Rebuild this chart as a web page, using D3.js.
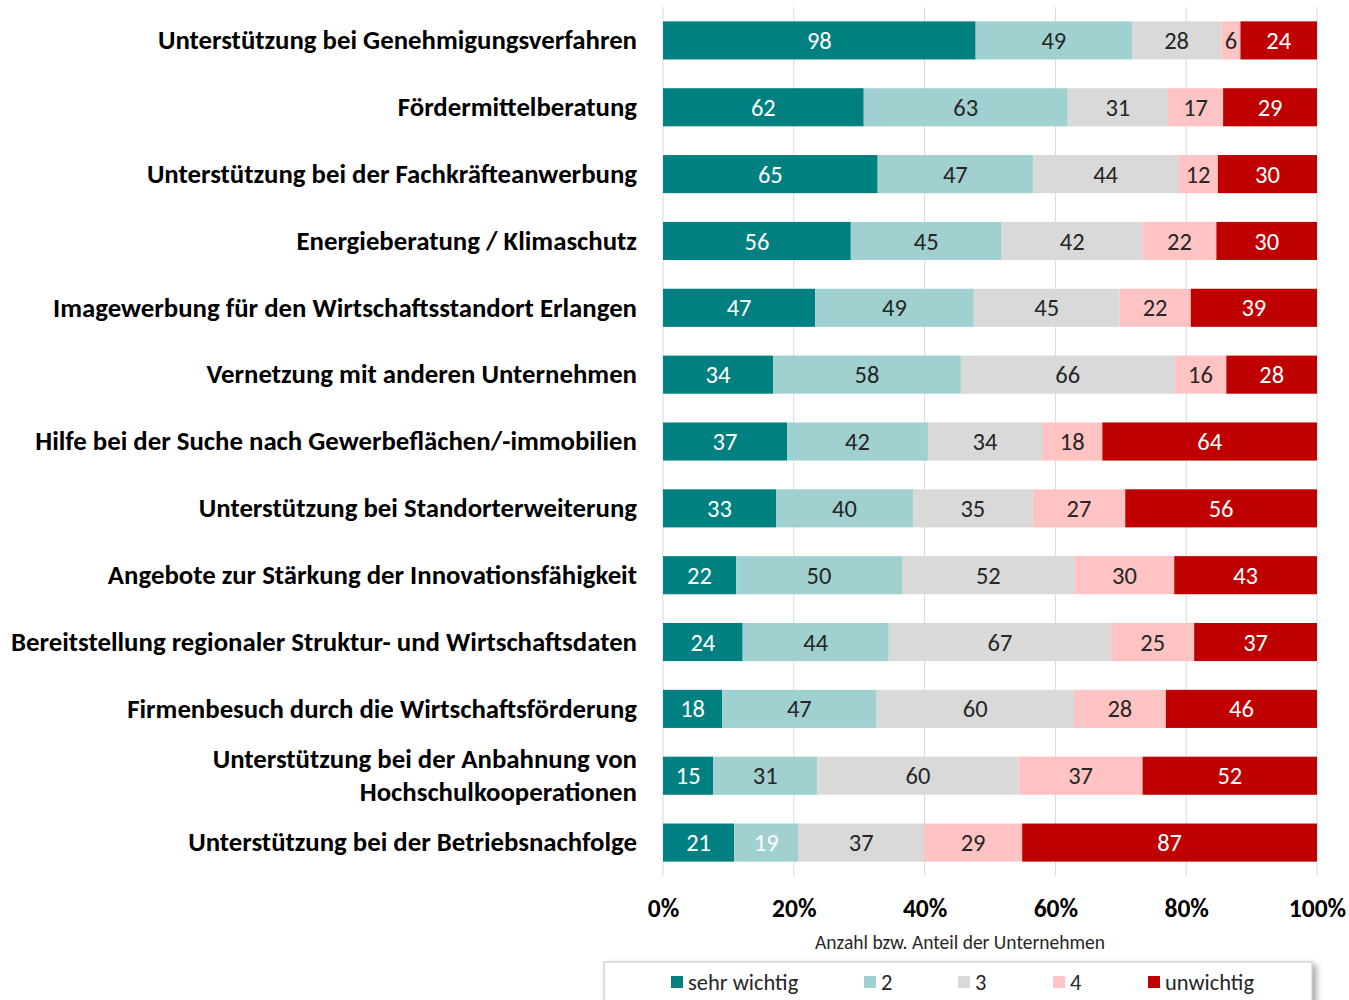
<!DOCTYPE html>
<html>
<head>
<meta charset="utf-8">
<script src="https://cdn.jsdelivr.net/npm/d3@7"></script>
<style>
  html, body { margin: 0; padding: 0; background: #fff; }
  svg { display: block; font-family: Carlito, Calibri, "Open Sans", sans-serif; }
</style>
</head>
<body>
<svg id="chart" width="1349" height="1000"></svg>
<script>
// Services, in display order (top to bottom); "\n" splits a label over two lines
const categories = [
  "Unterstützung bei Genehmigungsverfahren",
  "Fördermittelberatung",
  "Unterstützung bei der Fachkräfteanwerbung",
  "Energieberatung / Klimaschutz",
  "Imagewerbung für den Wirtschaftsstandort Erlangen",
  "Vernetzung mit anderen Unternehmen",
  "Hilfe bei der Suche nach Gewerbeflächen/-immobilien",
  "Unterstützung bei Standorterweiterung",
  "Angebote zur Stärkung der Innovationsfähigkeit",
  "Bereitstellung regionaler Struktur- und Wirtschaftsdaten",
  "Firmenbesuch durch die Wirtschaftsförderung",
  "Unterstützung bei der Anbahnung von\nHochschulkooperationen",
  "Unterstützung bei der Betriebsnachfolge"
];

const seriesNames = ["sehr wichtig", "2", "3", "4", "unwichtig"];

// Number of companies per rating
const sehrWichtig = [98, 62, 65, 56, 47, 34, 37, 33, 22, 24, 18, 15, 21];
const stufe2      = [49, 63, 47, 45, 49, 58, 42, 40, 50, 44, 47, 31, 19];
const stufe3      = [28, 31, 44, 42, 45, 66, 34, 35, 52, 67, 60, 60, 37];
const stufe4      = [ 6, 17, 12, 22, 22, 16, 18, 27, 30, 25, 28, 37, 29];
const unwichtig   = [24, 29, 30, 30, 39, 28, 64, 56, 43, 37, 46, 52, 87];

const tickLabels = ["0%", "20%", "40%", "60%", "80%", "100%"];
const axisTitle = "Anzahl bzw. Anteil der Unternehmen";

const colors = ["#008080", "#A0D1D0", "#D9D9D9", "#FFC3C3", "#C00000"];
const labelColors = ["#ffffff", "#262626", "#262626", "#262626", "#ffffff"];

const series = [sehrWichtig, stufe2, stufe3, stufe4, unwichtig];

// Build rows with shares for the 100 % stack
const rows = categories.map((c, i) => {
  const vals = series.map(s => s[i]);
  const total = d3.sum(vals);
  const row = { category: c, total };
  seriesNames.forEach((k, j) => { row[k] = vals[j] / total; row["n_" + k] = vals[j]; });
  return row;
});

const stacked = d3.stack().keys(seriesNames)(rows);

const svg = d3.select("#chart");
const plotLeft = 663, plotRight = 1317, plotTop = 7, plotBottom = 876;

const x = d3.scaleLinear().domain([0, 1]).range([plotLeft, plotRight]);
const y = d3.scaleBand().domain(categories).range([plotTop, plotBottom]).paddingInner(0.43).paddingOuter(0.215);

// Vertical gridlines
svg.append("g").selectAll("line")
  .data(d3.range(0, 1.0001, 0.2))
  .join("line")
  .attr("x1", d => x(d)).attr("x2", d => x(d))
  .attr("y1", plotTop).attr("y2", plotBottom)
  .attr("stroke", "#D9D9D9").attr("stroke-width", 1);

// Stacked segments
const layers = svg.append("g").selectAll("g")
  .data(stacked)
  .join("g")
  .attr("fill", (d, i) => colors[i]);

layers.selectAll("rect")
  .data(d => d)
  .join("rect")
  .attr("x", d => x(d[0]))
  .attr("width", d => x(d[1]) - x(d[0]))
  .attr("y", d => y(d.data.category))
  .attr("height", y.bandwidth());

// Count labels inside segments
stacked.forEach((layer, li) => {
  svg.append("g").selectAll("text")
    .data(layer)
    .join("text")
    .attr("x", d => (x(d[0]) + x(d[1])) / 2)
    .attr("y", d => y(d.data.category) + y.bandwidth() / 2)
    .attr("dy", "0.35em")
    .attr("text-anchor", "middle")
    .attr("font-size", 24.5)
    .attr("fill", d => (li === 1 && d.data.category.includes("Betriebsnachfolge")) ? "#ffffff" : labelColors[li])
    .text(d => d.data["n_" + layer.key]);
});

// Category labels
const catG = svg.append("g");
categories.forEach(c => {
  const lines = c.split("\n");
  const cy = y(c) + y.bandwidth() / 2;
  const lh = 33;
  const t = catG.append("text")
    .attr("text-anchor", "end")
    .attr("font-weight", "bold")
    .attr("font-size", 26.8)
    .attr("fill", "#000");
  lines.forEach((ln, k) => {
    t.append("tspan")
      .attr("x", 637)
      .attr("y", cy + (k - (lines.length - 1) / 2) * lh)
      .attr("dy", "0.33em")
      .text(ln);
  });
});

// X axis tick labels
const xAxis = d3.axisBottom(x)
  .tickValues(d3.range(0, 1.0001, 0.2))
  .tickFormat((d, i) => tickLabels[i])
  .tickSize(0).tickPadding(0);
const ax = svg.append("g").attr("transform", "translate(0,908)").call(xAxis);
ax.attr("font-family", null).attr("font-size", null);
ax.select(".domain").remove();
ax.selectAll("text")
  .attr("font-size", 25.5).attr("font-weight", "bold").attr("fill", "#000")
  .attr("y", 0).attr("dy", "0.34em");

// Axis title
svg.append("text")
  .attr("x", (plotLeft + plotRight) / 2 - 30).attr("y", 942)
  .attr("dy", "0.34em")
  .attr("text-anchor", "middle").attr("font-size", 19.5).attr("fill", "#262626")
  .text(axisTitle);

// Legend box with drop shadow
const defs = svg.append("defs");
const f = defs.append("filter").attr("id", "shadow").attr("x", "-5%").attr("y", "-20%").attr("width", "115%").attr("height", "160%");
f.append("feDropShadow").attr("dx", 4).attr("dy", 3).attr("stdDeviation", 3).attr("flood-color", "#000").attr("flood-opacity", 0.35);

svg.append("rect")
  .attr("x", 604).attr("y", 962).attr("width", 708).attr("height", 60)
  .attr("fill", "#fff").attr("stroke", "#BFBFBF").attr("stroke-width", 1)
  .attr("filter", "url(#shadow)");

const legendX = [671, 864, 958, 1053, 1148];
const lg = svg.append("g").selectAll("g")
  .data(seriesNames)
  .join("g")
  .attr("transform", (d, i) => `translate(${legendX[i]},982)`);
lg.append("rect").attr("x", 0).attr("y", -6).attr("width", 12).attr("height", 12)
  .attr("fill", (d, i) => colors[i]);
lg.append("text").attr("x", 17).attr("dy", "0.34em")
  .attr("font-size", 22.5).attr("fill", "#262626")
  .text(d => d);
</script>
</body>
</html>
